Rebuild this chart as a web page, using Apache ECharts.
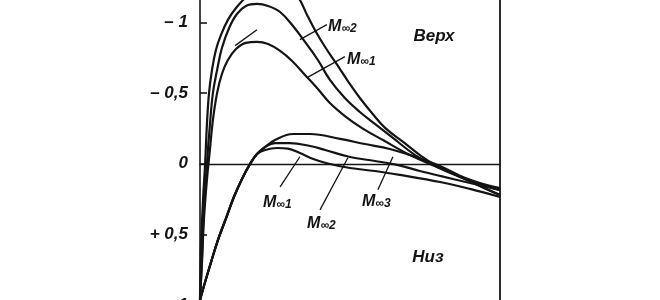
<!DOCTYPE html>
<html>
<head>
<meta charset="utf-8">
<script src="https://cdn.jsdelivr.net/npm/echarts@6/dist/echarts.min.js"></script>
<style>html,body{margin:0;padding:0;background:#fff}#c{width:660px;height:300px}</style>
</head>
<body>
<div id="c"></div>
<script>
// ---- data (x = x/c, y = pressure coefficient Cp) ----
const yTicks = [-1, -0.5, 0, 0.5, 1];

// upper surface ("Верх")
const xU1 = [0, 0.007, 0.013, 0.023, 0.033, 0.043, 0.057, 0.073, 0.093, 0.12, 0.153, 0.19, 0.227, 0.267, 0.307, 0.35, 0.393, 0.433, 0.483, 0.54, 0.61, 0.7, 0.783, 0.867, 0.933, 1.0];
const cpU1 = [0.965, 0.681, 0.398, 0.115, -0.098, -0.31, -0.501, -0.636, -0.735, -0.813, -0.856, -0.863, -0.848, -0.799, -0.728, -0.629, -0.53, -0.43, -0.338, -0.253, -0.168, -0.062, 0.016, 0.093, 0.157, 0.221];
const xU2 = [0, 0.007, 0.013, 0.023, 0.033, 0.043, 0.057, 0.073, 0.097, 0.123, 0.153, 0.19, 0.227, 0.267, 0.31, 0.35, 0.393, 0.433, 0.483, 0.533, 0.583, 0.643, 0.717, 0.783, 0.867, 0.933, 1.0];
const cpU2 = [0.965, 0.645, 0.327, 0.001, -0.275, -0.501, -0.664, -0.82, -0.962, -1.061, -1.118, -1.132, -1.118, -1.075, -0.976, -0.863, -0.735, -0.594, -0.466, -0.367, -0.282, -0.183, -0.062, 0.016, 0.093, 0.143, 0.186];
const xU3 = [0, 0.003, 0.01, 0.017, 0.023, 0.03, 0.04, 0.053, 0.07, 0.093, 0.12, 0.15, 0.183, 0.227, 0.267, 0.307, 0.333, 0.357, 0.383, 0.417, 0.453, 0.493, 0.533, 0.573, 0.617, 0.677, 0.733, 0.79, 0.867, 0.933, 1.0];
const cpU3 = [0.965, 0.611, 0.257, 0.001, -0.275, -0.501, -0.664, -0.806, -0.913, -1.019, -1.103, -1.174, -1.245, -1.302, -1.302, -1.231, -1.16, -1.054, -0.948, -0.827, -0.714, -0.586, -0.466, -0.36, -0.254, -0.155, -0.062, 0.016, 0.087, 0.136, 0.172];

// lower surface ("Низ")
const xL1 = [0, 0.017, 0.037, 0.06, 0.087, 0.113, 0.14, 0.167, 0.19, 0.217, 0.257, 0.293, 0.333, 0.373, 0.423, 0.5, 0.583, 0.667, 0.8, 0.9, 1.0];
const cpL1 = [0.965, 0.837, 0.695, 0.539, 0.384, 0.235, 0.107, 0.001, -0.069, -0.098, -0.112, -0.108, -0.076, -0.038, -0.004, 0.03, 0.051, 0.079, 0.129, 0.178, 0.235];
const xL2 = [0, 0.017, 0.037, 0.06, 0.087, 0.113, 0.14, 0.167, 0.19, 0.217, 0.25, 0.3, 0.367, 0.417, 0.5, 0.583, 0.657, 0.733, 0.8, 0.9, 1.0];
const cpL2 = [0.965, 0.837, 0.695, 0.539, 0.384, 0.235, 0.107, 0.001, -0.069, -0.119, -0.147, -0.147, -0.126, -0.098, -0.048, -0.02, 0.008, 0.051, 0.086, 0.136, 0.186];
const xL3 = [0, 0.017, 0.037, 0.06, 0.087, 0.113, 0.14, 0.167, 0.19, 0.217, 0.25, 0.31, 0.367, 0.467, 0.55, 0.633, 0.7, 0.757, 0.8, 0.867, 0.933, 1.0];
const cpL3 = [0.965, 0.837, 0.695, 0.539, 0.384, 0.235, 0.107, 0.001, -0.069, -0.119, -0.169, -0.211, -0.211, -0.176, -0.14, -0.105, -0.062, -0.02, 0.016, 0.086, 0.157, 0.221];

// thin auxiliary segment near upper peak
const xAux = [0.117, 0.19];
const cpAux = [-0.837, -0.95];

// annotation leader lines [x, Cp] pairs
const leaders = [
  [[0.333, -0.879], [0.423, -0.986]],
  [[0.357, -0.61], [0.483, -0.759]],
  [[0.267, 0.163], [0.333, -0.05]],
  [[0.4, 0.326], [0.493, -0.043]],
  [[0.593, 0.184], [0.643, -0.05]]
];
// annotation texts: [text, x, Cp, align]
const notes = [
  ['{m|M}{s|∞2}', 0.427, -0.985, 'left'],
  ['{m|M}{s|∞1}', 0.49, -0.75, 'left'],
  ['{w|Верх}', 0.78, -0.9, 'center'],
  ['{m|M}{s|∞1}', 0.21, 0.262, 'left'],
  ['{m|M}{s|∞2}', 0.357, 0.411, 'left'],
  ['{m|M}{s|∞3}', 0.54, 0.255, 'left'],
  ['{w|Низ}', 0.76, 0.66, 'center']
];

function zip(xs, ys) { return xs.map((x, i) => [x, ys[i]]); }

const chart = echarts.init(document.getElementById('c'), null, {renderer: 'canvas'});
const ink = '#141414';
const font = '"Liberation Sans", "DejaVu Sans", sans-serif';

function curve(xs, ys, w, sm) {
  return {type: 'line', data: zip(xs, ys), showSymbol: false, smooth: sm === undefined ? 0.4 : sm,
    lineStyle: {color: ink, width: w}, silent: true, z: 3};
}

const series = [
  curve(xU1, cpU1, 2.2), curve(xU2, cpU2, 2.2), curve(xU3, cpU3, 2.2),
  curve(xL1, cpL1, 2.2), curve(xL2, cpL2, 2.2), curve(xL3, cpL3, 2.2),
  curve(xAux, cpAux, 1.3, false)
];
leaders.forEach(l => series.push({type: 'line', data: l, showSymbol: false, lineStyle: {color: ink, width: 1.3}, silent: true, z: 2}));

chart.setOption({
  animation: false,
  grid: {left: 200, right: 160, top: 0, bottom: -5, containLabel: false, outerBoundsMode: 'none'},
  xAxis: {type: 'value', min: 0, max: 1, axisLine: {show: true, onZero: true, lineStyle: {color: ink, width: 1.3}},
    axisTick: {show: false}, axisLabel: {show: false}, splitLine: {show: false}},
  yAxis: [
    {type: 'value', inverse: true, min: -1.16, max: 1, position: 'left',
      axisLine: {show: true, lineStyle: {color: ink, width: 1.6}},
      axisTick: {show: true, inside: true, length: 7, customValues: yTicks, lineStyle: {color: ink, width: 1.6}},
      axisLabel: {show: true, customValues: yTicks, margin: 12, color: ink, fontSize: 17, fontStyle: 'italic', fontWeight: 'bold', fontFamily: font,
        formatter: v => v < 0 ? '– ' + String(-v).replace('.', ',') : (v > 0 ? '+ ' + String(v).replace('.', ',') : '0')},
      splitLine: {show: false}},
    {type: 'value', inverse: true, min: -1.16, max: 1, position: 'right',
      axisLine: {show: true, lineStyle: {color: ink, width: 1.8}}, axisTick: {show: false}, axisLabel: {show: false}, splitLine: {show: false}}
  ],
  series: series
});

const rich = {
  m: {fontSize: 16, fontStyle: 'italic', fontWeight: 'bold', fontFamily: font, fill: ink, color: ink, lineHeight: 20, verticalAlign: 'bottom'},
  s: {fontSize: 12, fontStyle: 'italic', fontWeight: 'bold', fontFamily: font, fill: ink, color: ink, lineHeight: 20, verticalAlign: 'bottom', padding: [6, 0, 0, 0]},
  w: {fontSize: 17, fontStyle: 'italic', fontWeight: 'bold', fontFamily: font, fill: ink, color: ink}
};
const graphics = notes.map(n => {
  const p = chart.convertToPixel({xAxisIndex: 0, yAxisIndex: 0}, [n[1], n[2]]);
  return {type: 'text', x: p[0], y: p[1], silent: true, z: 10,
    style: {text: n[0], rich: rich, align: n[3], verticalAlign: 'middle', fill: ink}};
});
chart.setOption({graphic: graphics});
</script>
</body>
</html>
